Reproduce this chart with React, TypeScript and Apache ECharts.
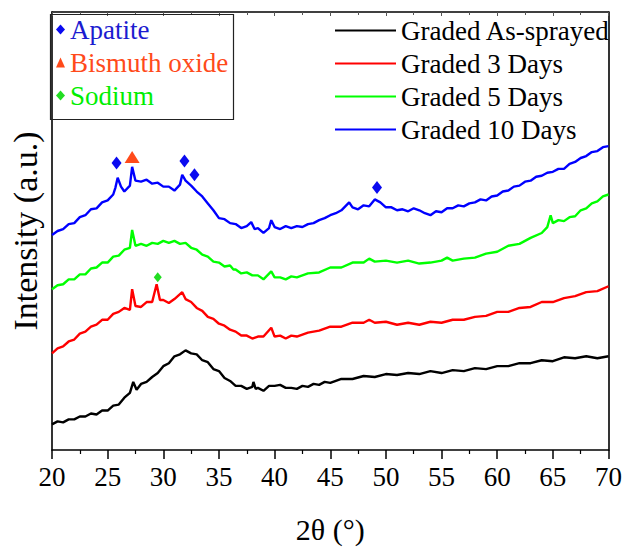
import React, { useEffect, useRef } from "react";
import * as echarts from "echarts";

const FONT = "'Liberation Serif', 'Times New Roman', Times, serif";

// 2θ (°), intensity (a.u., curves offset for stacking)
const asSprayed: [number, number][] = [
  [20, 29], [20.5, 32], [21, 31], [21.5, 34], [22, 34], [22.5, 37], [23, 37], [23.5, 40], [24, 39], [24.5, 43],
  [25, 43], [25.5, 48], [26, 49], [26.5, 56], [27, 61], [27.3, 72], [27.6, 64], [28, 70], [28.5, 72], [29, 77],
  [29.5, 81], [30, 88], [30.5, 91], [31, 98], [31.5, 100], [32, 104], [32.5, 101], [33, 100], [33.5, 94], [34, 92],
  [34.5, 85], [35, 83], [35.5, 76], [36, 73], [36.5, 68], [37, 68], [37.5, 65], [38, 67], [38.1, 72], [38.3, 65],
  [38.5, 66], [39, 63], [39.5, 68], [40, 68], [40.5, 69], [41, 66], [41.5, 66], [42, 65], [42.5, 68], [43, 67],
  [43.5, 70], [44, 69], [44.5, 72], [45, 71], [46, 75], [47, 75], [48, 78], [49, 77], [50, 80], [51, 79], [52, 81],
  [53, 80], [54, 83], [55, 81], [56, 84], [57, 83], [58, 86], [59, 85], [60, 88], [61, 88], [62, 91], [63, 91],
  [64, 94], [65, 93], [66, 97], [67, 96], [68, 98], [69, 96], [70, 98],
];
const days3: [number, number][] = [
  [20, 101], [20.5, 106], [21, 108], [21.5, 113], [22, 115], [22.5, 121], [23, 123], [23.5, 128], [24, 130],
  [24.5, 135], [25, 135], [25.5, 141], [26, 143], [26.5, 147], [27, 145], [27.2, 166], [27.5, 149], [28, 148],
  [28.5, 153], [29, 153], [29.4, 171], [29.7, 155], [30, 155], [30.5, 152], [31, 156], [31.7, 163], [32, 156],
  [32.5, 153], [33, 147], [33.5, 144], [34, 138], [34.5, 136], [35, 131], [35.5, 129], [36, 125], [36.5, 123],
  [37, 119], [37.5, 119], [38, 116], [38.5, 118], [39, 118], [39.7, 127], [40, 118], [40.5, 119], [41, 116],
  [41.5, 119], [42, 118], [43, 122], [44, 124], [45, 128], [46, 128], [47, 132], [48, 132], [48.5, 135], [49, 132],
  [50, 133], [51, 130], [52, 132], [53, 130], [54, 133], [55, 132], [56, 135], [57, 135], [58, 138], [59, 139],
  [60, 143], [61, 143], [62, 147], [63, 148], [64, 153], [65, 153], [66, 157], [67, 159], [68, 163], [69, 164],
  [70, 169],
];
const days5: [number, number][] = [
  [20, 166], [20.5, 170], [21, 171], [21.5, 176], [22, 176], [22.5, 181], [23, 181], [23.5, 187], [24, 188],
  [24.5, 193], [25, 193], [25.5, 199], [26, 200], [26.5, 206], [27, 208], [27.2, 226], [27.5, 210], [28, 212],
  [28.5, 210], [29, 213], [29.5, 212], [30, 215], [30.5, 213], [31, 215], [31.5, 212], [32, 213], [32.5, 208],
  [33, 206], [33.5, 201], [34, 199], [34.5, 194], [35, 193], [35.5, 189], [36, 190], [36.3, 186], [36.5, 186],
  [37, 182], [37.5, 183], [38, 180], [38.5, 180], [39, 176], [39.7, 184], [40, 178], [40.5, 178], [41, 176],
  [41.5, 179], [42, 178], [43, 182], [44, 183], [45, 188], [46, 188], [47, 193], [48, 193], [48.5, 197], [49, 194],
  [50, 195], [51, 193], [52, 195], [53, 192], [54, 193], [55, 195], [55.5, 198], [56, 195], [57, 197], [58, 198],
  [59, 202], [60, 204], [61, 210], [62, 212], [63, 218], [64, 223], [64.5, 229], [64.8, 241], [65, 233],
  [65.5, 236], [66, 235], [66.5, 239], [67, 240], [67.5, 246], [68, 248], [68.5, 253], [69, 255], [69.5, 260],
  [70, 262],
];
const days10: [number, number][] = [
  [20, 221], [20.5, 225], [21, 227], [21.5, 232], [22, 233], [22.5, 239], [23, 241], [23.5, 247], [24, 248],
  [24.5, 254], [25, 256], [25.5, 262], [25.7, 269], [25.9, 279], [26.2, 270], [26.5, 265], [27, 271], [27.2, 290],
  [27.5, 276], [28, 275], [28.5, 277], [29, 273], [29.5, 274], [30, 270], [30.5, 270], [31, 266], [31.5, 272],
  [31.7, 282], [32, 276], [32.5, 271], [33, 265], [33.5, 260], [34, 253], [34.5, 246], [35, 238], [35.5, 237],
  [36, 233], [36.5, 232], [37, 228], [37.5, 230], [37.9, 234], [38.2, 227], [38.5, 228], [39, 223], [39.5, 228],
  [39.7, 236], [40, 229], [40.5, 227], [41, 230], [41.5, 228], [42, 230], [42.5, 229], [43, 232], [43.5, 233],
  [44, 236], [44.5, 238], [45, 241], [45.5, 243], [46, 246], [46.7, 254], [47, 249], [47.5, 247], [48, 251],
  [48.5, 250], [49, 257], [49.5, 254], [50, 249], [50.5, 249], [51, 246], [51.5, 247], [52, 245], [52.5, 248],
  [53, 246], [53.5, 243], [54, 241], [54.5, 245], [55, 244], [55.5, 248], [56, 248], [56.5, 251], [57, 250],
  [57.5, 253], [58, 254], [58.5, 257], [59, 256], [59.5, 260], [60, 261], [60.5, 265], [61, 266], [61.5, 270],
  [62, 271], [62.5, 275], [63, 276], [63.5, 280], [64, 281], [64.5, 284], [65, 285], [65.5, 288], [66, 288],
  [66.5, 293], [67, 295], [67.5, 299], [68, 301], [68.5, 305], [69, 306], [69.5, 310], [70, 311],
];

// phase markers
const apatitePeaks: [number, number][] = [[25.8, 294], [31.9, 296], [32.8, 282], [49.2, 269]];
const bismuthPeaks: [number, number][] = [[27.2, 300]];
const sodiumPeaks: [number, number][] = [[29.5, 178]];

const seriesNames = ["Graded As-sprayed", "Graded 3 Days", "Graded 5 Days", "Graded 10 Days"];
const seriesColors = ["#000000", "#ff0000", "#00ff00", "#0000ff"];
const phaseNames = ["Apatite", "Bismuth oxide", "Sodium"];
const phaseColors = ["#1c1cd0", "#ff4a1a", "#00ee00"];

export default function App() {
  const ref = useRef<HTMLDivElement>(null);
  useEffect(() => {
    if (!ref.current) return;
    const chart = echarts.init(ref.current, null, { renderer: "svg" });
    const lineData = [asSprayed, days3, days5, days10];
    const lines = lineData.map((d, i) => ({
      name: seriesNames[i],
      type: "line",
      data: d,
      symbol: "none",
      lineStyle: { color: seriesColors[i], width: 2.4 },
      itemStyle: { color: seriesColors[i] },
      z: 2,
    }));
    const markers = [
      { name: phaseNames[0], type: "scatter", data: apatitePeaks, symbol: "diamond", symbolSize: [10, 13], itemStyle: { color: "#0a0af0", opacity: 1 }, z: 5 },
      { name: phaseNames[1], type: "scatter", data: bismuthPeaks, symbol: "triangle", symbolSize: [15, 12], itemStyle: { color: "#ff4a1a", opacity: 1 }, z: 5 },
      { name: phaseNames[2], type: "scatter", data: sodiumPeaks, symbol: "diamond", symbolSize: [8, 10], itemStyle: { color: "#22dd22", opacity: 1 }, z: 5 },
    ];
    chart.setOption({
      animation: false,
      backgroundColor: "#ffffff",
      textStyle: { fontFamily: FONT },
      grid: { left: 49, right: 13, top: 12, bottom: 93, containLabel: false },
      xAxis: [
        {
          type: "value", min: 20, max: 70, interval: 5, position: "bottom",
          axisLine: { show: true, lineStyle: { color: "#000", width: 1.6 } },
          axisTick: { show: true, inside: false, length: 9, lineStyle: { color: "#000", width: 1.5 } },
          minorTick: { show: true, splitNumber: 2, length: 4, lineStyle: { color: "#000", width: 1.2 } },
          axisLabel: { color: "#000", fontFamily: FONT, fontSize: 27, margin: 13 },
          splitLine: { show: false },
          name: "2θ (°)", nameLocation: "middle", nameGap: 64,
          nameTextStyle: { color: "#000", fontFamily: FONT, fontSize: 30 },
        },
        {
          type: "value", min: 20, max: 70, interval: 5, position: "top",
          axisLine: { show: true, lineStyle: { color: "#000", width: 1.6 } },
          axisTick: { show: true, inside: true, length: 4, lineStyle: { color: "#555", width: 1 } },
          minorTick: { show: true, splitNumber: 2, length: 3, lineStyle: { color: "#555", width: 1 } },
          axisLabel: { show: false },
          splitLine: { show: false },
        },
      ],
      yAxis: [
        {
          type: "value", min: 3, max: 447, position: "left",
          axisLine: { show: true, lineStyle: { color: "#000", width: 1.6 } },
          axisTick: { show: false },
          axisLabel: { show: false },
          splitLine: { show: false },
          name: "Intensity (a.u.)", nameLocation: "middle", nameGap: 10,
          nameTextStyle: { color: "#000", fontFamily: FONT, fontSize: 34 },
        },
        {
          type: "value", min: 3, max: 447, position: "right",
          axisLine: { show: true, lineStyle: { color: "#000", width: 1.6 } },
          axisTick: { show: false },
          axisLabel: { show: false },
          splitLine: { show: false },
        },
      ],
      legend: [
        {
          data: seriesNames,
          orient: "vertical",
          left: 335, top: 17,
          itemWidth: 61, itemHeight: 2, itemGap: 6,
          icon: "rect",
          textStyle: { color: "#000", fontFamily: FONT, fontSize: 27, lineHeight: 27 },
          padding: 0,
        },
        {
          data: phaseNames.map((n, i) => ({ name: n, textStyle: { color: phaseColors[i] } })),
          orient: "vertical",
          left: 56, top: 16,
          itemWidth: 9, itemHeight: 10, itemGap: 6,
          textStyle: { fontFamily: FONT, fontSize: 27, lineHeight: 27 },
          padding: 0,
        },
      ],
      graphic: [
        { type: "rect", left: 48, top: 12, shape: { width: 183, height: 105 }, style: { fill: "none", stroke: "#222", lineWidth: 1.2 }, z: 10 },
      ],
      series: [...lines, ...markers],
    });
    return () => chart.dispose();
  }, []);
  return <div ref={ref} style={{ width: 625, height: 549, position: "absolute", left: 0, top: 0 }} />;
}
